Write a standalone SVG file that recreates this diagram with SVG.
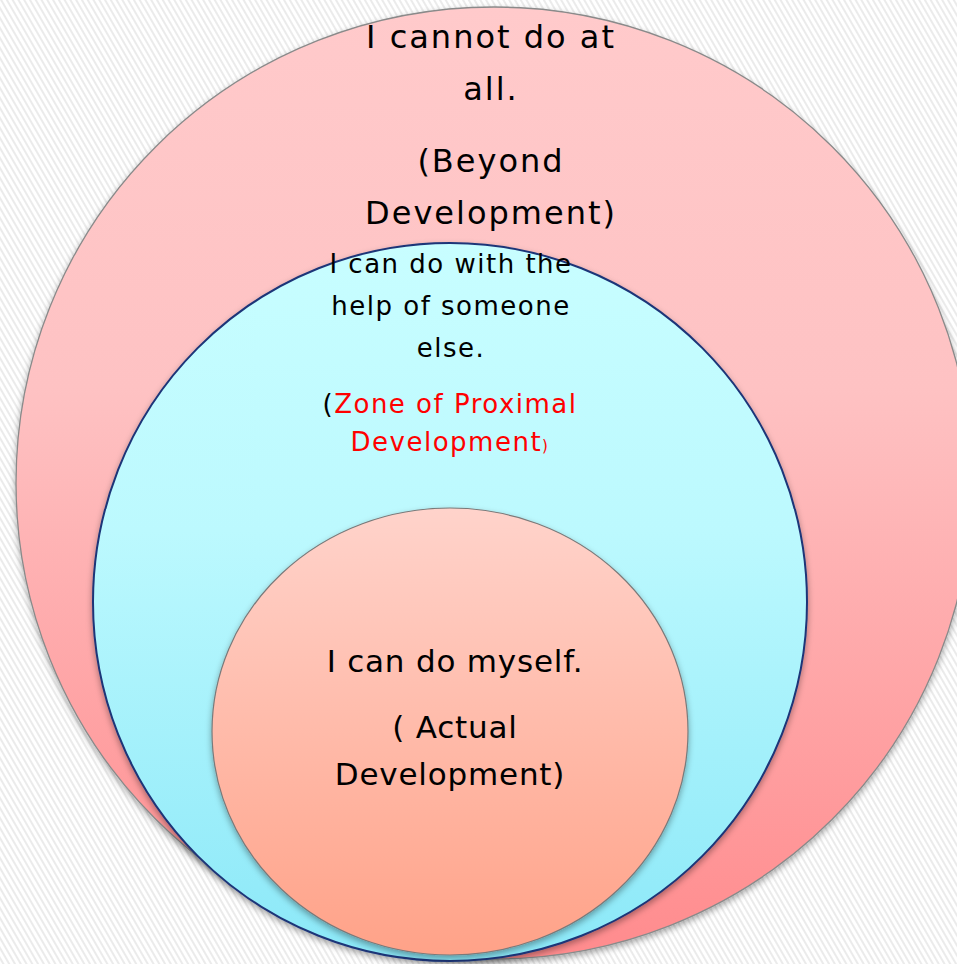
<svg xmlns="http://www.w3.org/2000/svg" width="957" height="964" viewBox="0 0 957 964">
  <defs>
    <pattern id="stripes" width="5" height="5" patternUnits="userSpaceOnUse" patternTransform="rotate(-30)">
      <rect width="5" height="5" fill="#ffffff"/>
      <line x1="1" y1="0" x2="1" y2="5" stroke="#e6e6e6" stroke-width="1.6"/>
    </pattern>
    <linearGradient id="gPink" x1="0" y1="0" x2="0" y2="1">
      <stop offset="0" stop-color="#ffcacb"/>
      <stop offset="0.4" stop-color="#fec2c3"/>
      <stop offset="1" stop-color="#ff8b8d"/>
    </linearGradient>
    <linearGradient id="gCyan" x1="0" y1="0" x2="0" y2="1">
      <stop offset="0" stop-color="#c8feff"/>
      <stop offset="0.4" stop-color="#bcf9fe"/>
      <stop offset="1" stop-color="#8be8f8"/>
    </linearGradient>
    <linearGradient id="gSalmon" x1="0" y1="0" x2="0" y2="1">
      <stop offset="0" stop-color="#ffd3cb"/>
      <stop offset="1" stop-color="#ffa288"/>
    </linearGradient>
    <filter id="shadow" x="-10%" y="-10%" width="120%" height="125%">
      <feDropShadow dx="0" dy="3" stdDeviation="3" flood-color="#000" flood-opacity="0.35"/>
    </filter>
  </defs>
  <style>
    .t { font-family: "DejaVu Sans", "Liberation Sans", sans-serif; fill: #000; text-anchor: middle; }
    .big { font-size: 32px; letter-spacing: 2px; }
    .mid { font-size: 26px; letter-spacing: 1.5px; }
    .sml { font-size: 31px; letter-spacing: 0.8px; }
    .red { fill: #ff0000; }
  </style>
  <rect width="957" height="964" fill="url(#stripes)"/>

  <g id="beyond">
    <ellipse cx="494" cy="483" rx="478" ry="476" fill="url(#gPink)" stroke="#8a8a8a" stroke-width="1.3" filter="url(#shadow)"/>
    <text class="t big" x="491" y="48">I cannot do at</text>
    <text class="t big" x="491" y="100">all.</text>
    <text class="t big" x="491" y="172">(Beyond</text>
    <text class="t big" x="491" y="224">Development)</text>
  </g>

  <g id="zpd">
    <ellipse cx="450" cy="602" rx="357" ry="359" fill="url(#gCyan)" stroke="#1c3578" stroke-width="2" filter="url(#shadow)"/>
    <text class="t mid" x="451" y="273">I can do with the</text>
    <text class="t mid" x="451" y="315">help of someone</text>
    <text class="t mid" x="451" y="357">else.</text>
    <text class="t mid" x="450" y="413">(<tspan class="red">Zone of Proximal</tspan></text>
    <text class="t mid" x="450" y="451"><tspan class="red">Development</tspan><tspan class="red" font-size="15">)</tspan></text>
  </g>

  <g id="actual">
    <ellipse cx="450" cy="731.5" rx="238" ry="223.5" fill="url(#gSalmon)" stroke="#7a7a7a" stroke-width="1.2" filter="url(#shadow)"/>
    <text class="t sml" x="455" y="672">I can do myself.</text>
    <text class="t sml" x="455" y="738">( Actual</text>
    <text class="t sml" x="450" y="785">Development)</text>
  </g>

  <g id="connectors"/>
</svg>
